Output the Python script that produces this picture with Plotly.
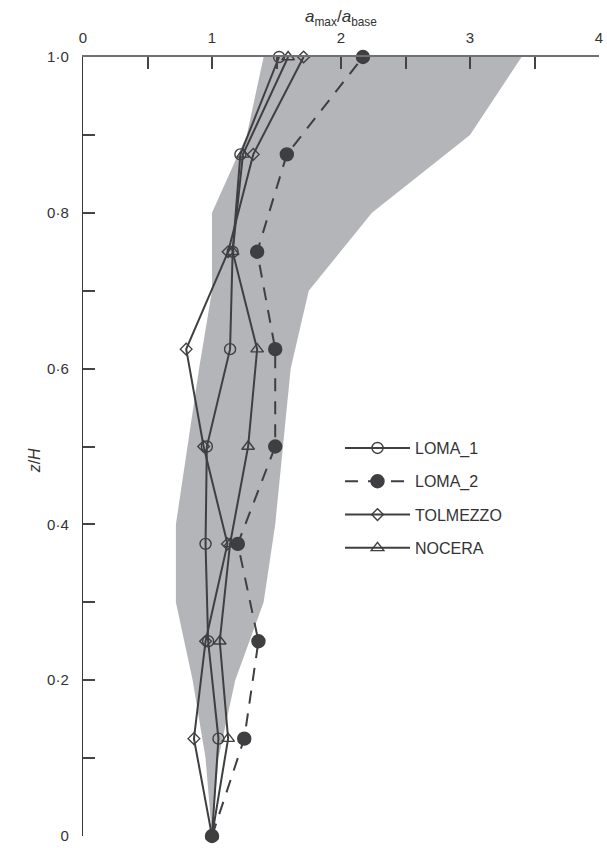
import plotly.graph_objects as go

# ---------------- data ----------------
z_levels = [0.0, 0.125, 0.25, 0.375, 0.5, 0.625, 0.75, 0.875, 1.0]

loma_1 = [1.00, 1.05, 0.97, 0.95, 0.96, 1.14, 1.16, 1.22, 1.52]
loma_2 = [1.00, 1.25, 1.36, 1.20, 1.49, 1.49, 1.35, 1.58, 2.17]
tolmezzo = [1.00, 0.86, 0.95, 1.12, 0.935, 0.80, 1.125, 1.32, 1.71]
nocera = [1.00, 1.125, 1.06, 1.14, 1.28, 1.35, 1.16, 1.24, 1.59]

env_z = [1.0, 0.9, 0.8, 0.7, 0.6, 0.5, 0.4, 0.3, 0.2, 0.1, 0.0]
env_lower = [1.40, 1.27, 1.00, 1.00, 0.90, 0.81, 0.72, 0.72, 0.85, 0.95, 1.00]
env_upper = [3.40, 3.00, 2.24, 1.75, 1.61, 1.55, 1.49, 1.40, 1.18, 1.05, 1.00]

x_tickvals = [0, 1, 2, 3, 4]
x_ticktext = ["0", "1", "2", "3", "4"]
x_minorticks = [0.5, 1.5, 2.5, 3.5]
y_tickvals = [0, 0.2, 0.4, 0.6, 0.8, 1.0]
y_ticktext = ["0", "0·2", "0·4", "0·6", "0·8", "1·0"]
y_minorticks = [0.1, 0.3, 0.5, 0.7, 0.9]

# ---------------- style ----------------
LINE = "#3f3f41"
BAND = "#b4b5b8"
TICK = "#444444"
FONT = "Liberation Sans, Arial, sans-serif"

fig = go.Figure()

# envelope band
fig.add_trace(go.Scatter(
    x=env_lower + env_upper[::-1],
    y=env_z + env_z[::-1],
    fill="toself", fillcolor=BAND, mode="none",
    line=dict(width=0), showlegend=False, hoverinfo="skip",
))

series = [
    ("LOMA_1", loma_1, "circle-open", 11, "solid"),
    ("LOMA_2", loma_2, "circle", 13, "13px,10px"),
    ("TOLMEZZO", tolmezzo, "diamond-open", 9, "solid"),
    ("NOCERA", nocera, "triangle-up-open", 11, "solid"),
]
for name, vals, sym, size, dash in series:
    fig.add_trace(go.Scatter(
        x=vals, y=z_levels, name=name, mode="lines+markers",
        line=dict(color=LINE, width=2, dash=dash),
        marker=dict(symbol=sym, size=size, color=LINE,
                    line=dict(color=LINE, width=1.4)),
        cliponaxis=False, legendgroup=name,
    ))

fig.update_layout(
    width=607, height=848, autosize=False,
    margin=dict(l=83, r=4, t=57, b=10),
    plot_bgcolor="white", paper_bgcolor="white",
    font=dict(family=FONT, size=15, color="#333333"),
    showlegend=True,
    legend=dict(
        x=(342 - 83) / 520, y=(838 - 432) / 781, xanchor="left", yanchor="top",
        bgcolor="rgba(0,0,0,0)", font=dict(size=16, color="#333333"),
        itemwidth=65, tracegroupgap=9.5, traceorder="grouped",
    ),
    xaxis=dict(
        side="top", range=[0, 4], tickmode="array",
        tickvals=x_tickvals, ticktext=x_ticktext,
        ticks="inside", ticklen=12, tickwidth=1.5, tickcolor=TICK,
        minor=dict(tickmode="array", tickvals=x_minorticks, ticks="inside",
                   ticklen=12, tickwidth=1.5, tickcolor=TICK, showgrid=False),
        showline=True, linecolor="#707070", linewidth=2,
        showgrid=False, zeroline=False, mirror=False,
        ticklabeloverflow="allow", ticklabelstandoff=6,
        tickfont=dict(size=15),
    ),
    yaxis=dict(
        range=[0, 1], tickmode="array",
        tickvals=y_tickvals, ticktext=y_ticktext,
        ticks="inside", ticklen=12, tickwidth=1.5, tickcolor=TICK,
        minor=dict(tickmode="array", tickvals=y_minorticks, ticks="inside",
                   ticklen=12, tickwidth=1.5, tickcolor=TICK, showgrid=False),
        showline=True, linecolor="#3a3a3a", linewidth=1.4,
        showgrid=False, zeroline=False, mirror=False,
        ticklabeloverflow="allow", ticklabelstandoff=10,
        tickfont=dict(size=15),
    ),
    annotations=[
        dict(text="<i>a</i><sub>max</sub>/<i>a</i><sub>base</sub>",
             xref="paper", yref="paper", x=0.5, y=(838 - 18) / 781,
             xanchor="center", yanchor="middle", showarrow=False,
             font=dict(size=17, color="#333333")),
        dict(text="<i>z</i>/<i>H</i>", textangle=-90,
             xref="paper", yref="paper", x=(35 - 83) / 520, y=(838 - 462) / 781,
             xanchor="center", yanchor="middle", showarrow=False,
             font=dict(size=16, color="#333333")),
    ],
)

fig.write_html("out.html")
